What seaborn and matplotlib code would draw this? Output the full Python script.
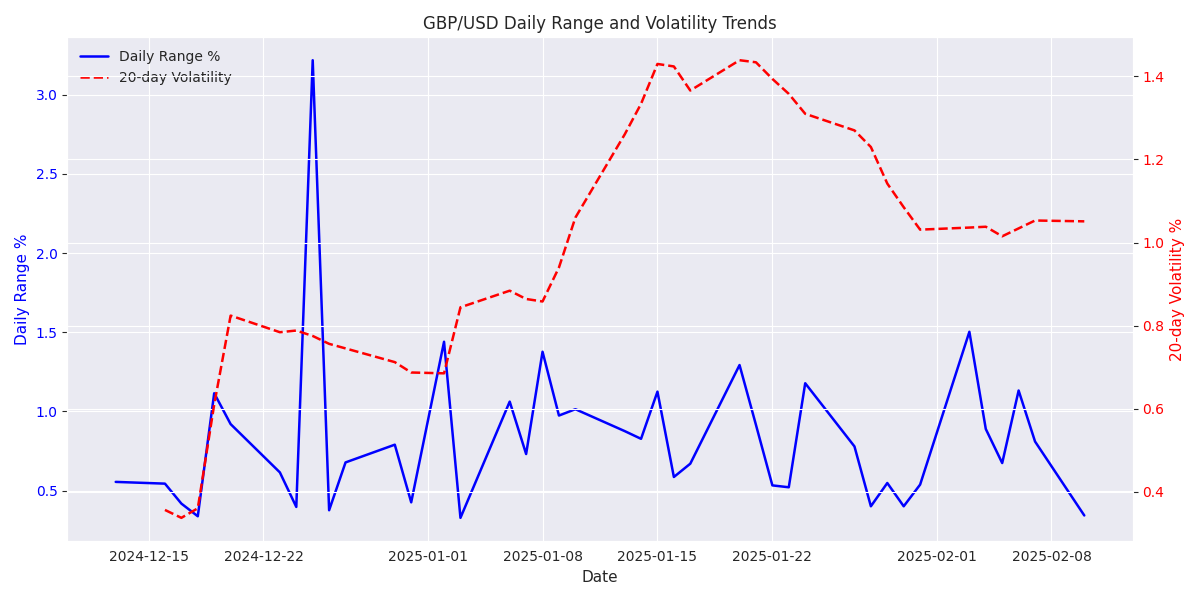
import pandas as pd
import matplotlib
matplotlib.use("Agg")
import matplotlib.pyplot as plt
import seaborn as sns

# trading days shown in the chart
DATES = [
    "2024-12-13", "2024-12-16", "2024-12-17", "2024-12-18", "2024-12-19",
    "2024-12-20", "2024-12-23", "2024-12-24", "2024-12-25", "2024-12-26",
    "2024-12-27", "2024-12-30", "2024-12-31", "2025-01-02", "2025-01-03",
    "2025-01-06", "2025-01-07", "2025-01-08", "2025-01-09", "2025-01-10",
    "2025-01-13", "2025-01-14", "2025-01-15", "2025-01-16", "2025-01-17",
    "2025-01-20", "2025-01-21", "2025-01-22", "2025-01-23", "2025-01-24",
    "2025-01-27", "2025-01-28", "2025-01-29", "2025-01-30", "2025-01-31",
    "2025-02-03", "2025-02-04", "2025-02-05", "2025-02-06", "2025-02-07",
    "2025-02-10",
]

DAILY_RANGE = [
    0.555, 0.544, 0.418, 0.338, 1.115,
    0.92, 0.615, 0.397, 3.218, 0.376,
    0.678, 0.79, 0.426, 1.44, 0.328,
    1.062, 0.731, 1.377, 0.974, 1.014,
    0.876, 0.827, 1.125, 0.586, 0.67,
    1.293, 0.915, 0.533, 0.521, 1.178,
    0.779, 0.401, 0.548, 0.401, 0.538,
    1.503, 0.889, 0.674, 1.132, 0.81,
    0.343,
]

# volatility starts one trading day later (2024-12-16)
VOLATILITY = [
    0.356, 0.337, 0.36, 0.61,
    0.824, 0.784, 0.788, 0.775, 0.756,
    0.745, 0.712, 0.687, 0.685, 0.844,
    0.884, 0.864, 0.858, 0.94, 1.06,
    1.26, 1.334, 1.43, 1.424, 1.366,
    1.439, 1.434, 1.394, 1.358, 1.31,
    1.27, 1.23, 1.142, 1.085, 1.031,
    1.036, 1.038, 1.015, 1.034, 1.053,
    1.051,
]


def main():
    sns.set_style("darkgrid")
    plt.rcParams.update({
        "axes.labelsize": 11,
        "axes.titlesize": 12,
        "xtick.labelsize": 10,
        "ytick.labelsize": 10,
        "legend.fontsize": 10,
        "legend.frameon": False,
    })

    dates = pd.to_datetime(DATES)
    vol_dates = dates[1:]

    fig, ax1 = plt.subplots(figsize=(12, 6), dpi=100)
    sns.lineplot(x=dates, y=DAILY_RANGE, ax=ax1, color="blue",
                 linewidth=1.8, label="Daily Range %")
    ax1.set_xlabel("Date")
    ax1.set_ylabel("Daily Range %", color="blue")
    ax1.tick_params(axis="y", labelcolor="blue")

    ax2 = ax1.twinx()
    sns.lineplot(x=vol_dates, y=VOLATILITY, ax=ax2, color="red",
                 linestyle="--", linewidth=1.8, label="20-day Volatility")
    ax2.set_ylabel("20-day Volatility %", color="red")
    ax2.tick_params(axis="y", labelcolor="red")

    h1, l1 = ax1.get_legend_handles_labels()
    h2, l2 = ax2.get_legend_handles_labels()
    ax2.get_legend().remove()
    ax1.legend(h1 + h2, l1 + l2, loc="upper left")

    plt.title("GBP/USD Daily Range and Volatility Trends")
    plt.tight_layout()
    plt.savefig("out.png")


if __name__ == "__main__":
    main()
